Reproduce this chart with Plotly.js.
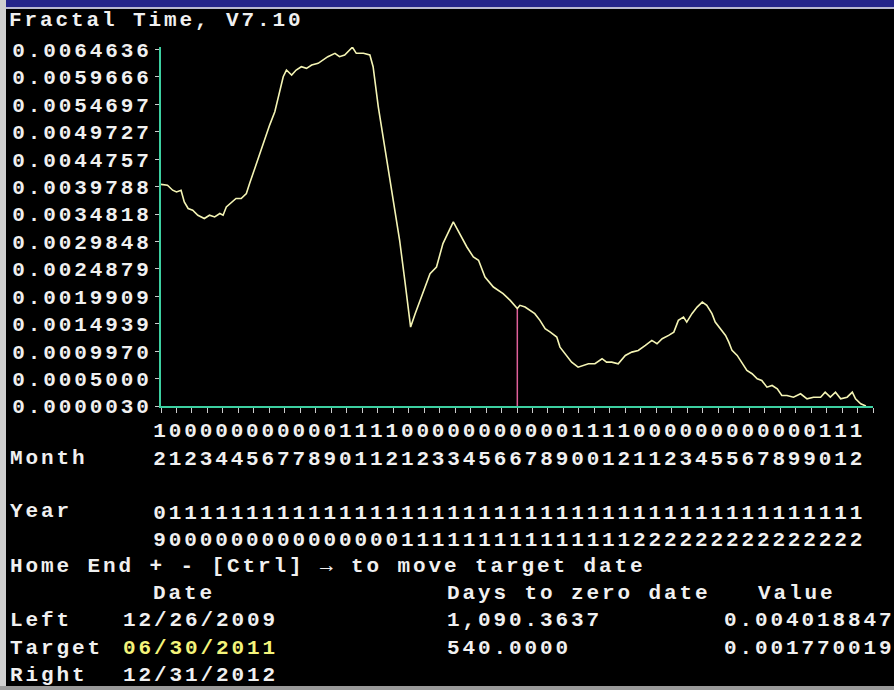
<!DOCTYPE html>
<html><head><meta charset="utf-8">
<script src="https://cdn.plot.ly/plotly-3.0.1.min.js"></script>
<style>
html,body{margin:0;padding:0;background:#000;overflow:hidden}
#chart{width:894px;height:690px}
svg text{letter-spacing:2.9px !important}
</style></head><body><div id="chart"></div>
<script>
// ---- data (days since Left date 12/26/2009) ----
const days = [0,10,18,24,31,36,42,49,57,67,75,83,91,96,101,109,116,124,132,137,145,153,160,168,176,184,189,194,202,209,217,225,233,243,251,258,269,276,284,296,302,313,323,328,336,341,346,354,362,369,377,386,393,405,416,426,436,452,462,473,483,491,501,514,529,540,551,555,563,571,578,586,594,602,612,617,625,635,645,653,661,671,682,689,697,707,718,728,738,749,759,767,775,785,793,800,808,813,821,829,837,844,852,857,865,873,878,883,891,899,906,914,922,929,937,945,953,960,968,978,989,999,1009,1020,1027,1035,1043,1051,1061,1069,1074,1082,1090];
const values = [0.0040188,0.0040046,0.0039139,0.0038830,0.0039139,0.0037016,0.0035818,0.0035509,0.0034602,0.0034003,0.0034602,0.0034293,0.0034910,0.0034602,0.0036108,0.0037016,0.0037633,0.0037633,0.0038540,0.0040355,0.0043077,0.0046090,0.0048521,0.0050935,0.0053349,0.0056978,0.0059700,0.0060917,0.0060009,0.0060917,0.0061515,0.0061225,0.0061824,0.0062132,0.0062731,0.0063330,0.0063947,0.0063330,0.0063639,0.0065050,0.0063947,0.0063947,0.0063639,0.0061515,0.0054256,0.0050627,0.0046398,0.0040954,0.0034910,0.0030065,0.0022806,0.0014331,0.0016762,0.0020392,0.0024022,0.0025220,0.0029466,0.0033386,0.0031281,0.0028849,0.0027034,0.0026435,0.0023405,0.0021590,0.0020392,0.0019176,0.0017700,0.0018269,0.0017960,0.0017361,0.0016762,0.0015547,0.0014040,0.0013423,0.0012516,0.0010701,0.0009503,0.0007979,0.0007071,0.0007380,0.0007688,0.0007688,0.0008596,0.0007979,0.0007979,0.0007688,0.0009195,0.0009794,0.0010102,0.0011010,0.0011917,0.0011318,0.0012225,0.0012824,0.0013423,0.0015547,0.0016145,0.0015238,0.0016762,0.0017960,0.0018868,0.0018269,0.0016762,0.0015238,0.0014040,0.0012824,0.0011608,0.0010102,0.0009195,0.0007688,0.0006473,0.0005874,0.0004966,0.0004658,0.0003442,0.0003750,0.0003151,0.0001936,0.0001936,0.0001627,0.0002244,0.0001337,0.0001627,0.0001627,0.0002534,0.0001627,0.0002534,0.0001337,0.0001627,0.0002534,0.0001337,0.0000429,0.0000030];

const yTickLabels = ["0.0064636","0.0059666","0.0054697","0.0049727","0.0044757","0.0039788","0.0034818","0.0029848","0.0024879","0.0019909","0.0014939","0.0009970","0.0005000","0.0000030"];
const monthTens = "1000000000000111100000000000111100000000000000111".slice(0,0) + "1"+"00000000000"+"1111"+"00000000000"+"1111"+"000000000000"+"111";
const monthOnes = "2123445677890112123345667890012112345567899012";
const yearTens  = "0111111111111111111111111111111111111111111111";
const yearOnes  = "9000000000000000111111111111111222222222222222";

const spanDays = 1101;
const targetDay = 551;
const titleText = "Fractal Time, V7.10";
const helpText = "Home End + - [Ctrl] \u2192 to move target date";
const colHeads = ["Date", "Days to zero date", "Value"];
const rowNames = ["Left", "Target", "Right"];
const rowDates = ["12/26/2009", "06/30/2011", "12/31/2012"];
const rowDays = ["1,090.3637", "540.0000", ""];
const rowValues = ["0.004018847", "0.001770019", ""];
const targetValue = 0.001770019;

// ---- geometry ----
const W = 894, H = 690, L = 161, R = 873, T = 47, B = 406;
const px = x => (x - L) / (R - L);
const py = y => (B - y) / (B - T);
const FONT = "Liberation Mono, DejaVu Sans Mono, monospace";
const WHITE = "#f0f0f0";
const AXIS = "#3ccfa0";

const nTicks = 46;
const tickvals = [], ticktext = [];
for (let i = 0; i <= nTicks; i++) {
  tickvals.push(i * spanDays / nTicks);
  ticktext.push(i < nTicks ? monthTens[i] + "<br>" + monthOnes[i] + "<br> <br>" + yearTens[i] + "<br>" + yearOnes[i] : "");
}

function ann(text, x, y, color) {
  return {text: text, xref: "paper", yref: "paper", x: px(x), y: py(y), xanchor: "left", yanchor: "middle",
    showarrow: false, borderpad: 0, font: {family: FONT, size: 21, color: color || WHITE, weight: "bold"}};
}
const annotations = [
  ann("Month", 9, 458), ann("Year", 9, 511), ann(helpText, 9, 566),
  ann(colHeads[0], 152, 593), ann(colHeads[1], 446, 593), ann(colHeads[2], 757, 593)
];
const rowY = [620, 648, 675];
for (let r = 0; r < 3; r++) {
  annotations.push(ann(rowNames[r], 9, rowY[r]));
  annotations.push(ann(rowDates[r], 122, rowY[r], r === 1 ? "#f4f47a" : WHITE));
  if (rowDays[r]) annotations.push(ann(rowDays[r], 446, rowY[r]));
  if (rowValues[r]) annotations.push(ann(rowValues[r], 723, rowY[r]));
}

const shapes = [
  {type: "line", xref: "x", yref: "y", x0: targetDay, x1: targetDay, y0: 0.000003, y1: targetValue,
   line: {color: "#e0609a", width: 1.5}, layer: "below"},
  {type: "rect", xref: "paper", yref: "paper", x0: px(0), x1: px(W), y0: py(0), y1: py(7),
   fillcolor: "#24248a", line: {width: 0}, layer: "above"},
  {type: "rect", xref: "paper", yref: "paper", x0: px(0), x1: px(W), y0: py(7), y1: py(9),
   fillcolor: "#b8b8d0", line: {width: 0}, layer: "above"},
  {type: "rect", xref: "paper", yref: "paper", x0: px(0), x1: px(6), y0: py(0), y1: py(H),
   fillcolor: "#cfcfcf", line: {width: 0}, layer: "above"},
  {type: "rect", xref: "paper", yref: "paper", x0: px(0), x1: px(W), y0: py(686), y1: py(H),
   fillcolor: "#9a9a9a", line: {width: 0}, layer: "above"}
];

const trace = {x: days, y: values, type: "scatter", mode: "lines",
  line: {color: "#f4f4b4", width: 1.6}, hoverinfo: "skip"};

const layout = {
  width: W, height: H,
  margin: {l: L, r: W - R, t: T, b: H - B, pad: 0},
  paper_bgcolor: "#000", plot_bgcolor: "#000",
  showlegend: false,
  title: {text: titleText, x: 9 / W, xref: "container", xanchor: "left", y: 1 - 19 / H, yref: "container", yanchor: "middle",
    font: {family: FONT, size: 21, color: WHITE, weight: "bold"}},
  xaxis: {range: [0, spanDays], showgrid: false, zeroline: false, showline: true, linecolor: AXIS, linewidth: 2,
    tickmode: "array", tickvals: tickvals, ticktext: ticktext, ticks: "outside", ticklen: 5, tickwidth: 1, tickcolor: "#cccccc",
    tickangle: 0, ticklabelstandoff: -1,
    tickfont: {family: FONT, size: 21, color: WHITE, weight: "bold"}},
  yaxis: {range: [0.000003, 0.006509], showgrid: false, zeroline: false, showline: true, linecolor: AXIS, linewidth: 2,
    tickmode: "array", tickvals: yTickLabels.map(Number), ticktext: yTickLabels, ticks: "outside", ticklen: 4, tickwidth: 1, tickcolor: "#cccccc",
    ticklabelstandoff: -1,
    tickfont: {family: FONT, size: 21, color: WHITE, weight: "bold"}},
  annotations: annotations,
  shapes: shapes
};
Plotly.newPlot("chart", [trace], layout, {displayModeBar: false, staticPlot: true});
</script></body></html>
